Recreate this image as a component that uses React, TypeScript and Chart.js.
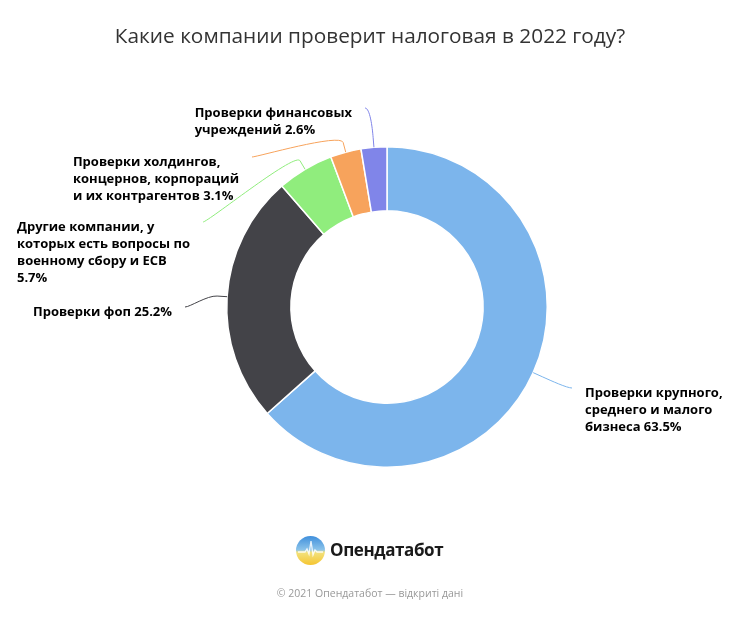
import React, { useEffect, useRef } from 'react';
import { Chart, registerables, Plugin } from 'chart.js';

Chart.register(...registerables);

// clockwise from 12 o'clock
const categories = [
    'Проверки крупного,\nсреднего и малого\nбизнеса',
    'Проверки фоп',
    'Другие компании, у\nкоторых есть вопросы по\nвоенному сбору и ЕСВ\n',
    'Проверки холдингов,\nконцернов, корпораций\nи их контрагентов',
    'Проверки финансовых\nучреждений',
];
const shares = [63.5, 25.2, 5.7, 3.1, 2.6];
const colors = ['#7cb5ec', '#434348', '#90ed7d', '#f7a35c', '#8085e9'];

// where each connector ends, as an offset from the pie centre
const labelAnchors = [
    [185, 81],
    [-202, 0],
    [-184, -85],
    [-135, -150],
    [-22, -199],
];

const labelText = (i: number) => {
    const cat = categories[i];
    return cat.endsWith('\n') ? `${cat}${shares[i]}%` : `${cat} ${shares[i]}%`;
};

const pieLabels: Plugin<'doughnut'> = {
    id: 'pieLabels',
    afterDatasetsDraw(chart) {
        const ctx = chart.ctx;
        const meta = chart.getDatasetMeta(0);
        ctx.save();
        ctx.font = 'bold 13px "Open Sans"';
        ctx.textBaseline = 'middle';
        meta.data.forEach((el, i) => {
            const { x, y, startAngle, endAngle, outerRadius } = el.getProps(
                ['x', 'y', 'startAngle', 'endAngle', 'outerRadius'],
                true
            ) as any;
            const a = (startAngle + endAngle) / 2;
            const ex = x + Math.cos(a) * outerRadius;
            const ey = y + Math.sin(a) * outerRadius;
            const bx = x + Math.cos(a) * (outerRadius + 10);
            const by = y + Math.sin(a) * (outerRadius + 10);
            const lx = x + labelAnchors[i][0];
            const ly = y + labelAnchors[i][1];
            const right = lx > x;

            // soft connector: label -> break point -> slice edge
            ctx.strokeStyle = colors[i];
            ctx.lineWidth = 1;
            ctx.beginPath();
            ctx.moveTo(lx, ly);
            ctx.bezierCurveTo(lx + (right ? -5 : 5), ly, 2 * bx - ex, 2 * by - ey, bx, by);
            ctx.lineTo(ex, ey);
            ctx.stroke();

            const lines = labelText(i).split('\n');
            const w = Math.max(...lines.map((l) => ctx.measureText(l).width));
            const tx = right ? lx + 13 : lx - 13 - w;
            ctx.fillStyle = '#000';
            lines.forEach((l, k) => ctx.fillText(l, tx, ly + 5 + k * 17));
        });
        ctx.restore();
    },
};

const App: React.FC = () => {
    const chartRef = useRef<HTMLCanvasElement | null>(null);

    useEffect(() => {
        const ctx = chartRef.current?.getContext('2d');
        if (!ctx) {
            return;
        }

        const myChart = new Chart(ctx, {
            type: 'doughnut',
            data: {
                labels: categories.map((c) => c.replace(/\n/g, ' ').trim()),
                datasets: [
                    {
                        data: shares,
                        backgroundColor: colors,
                        borderColor: '#ffffff',
                        borderWidth: 1.5,
                        hoverOffset: 0,
                        offset: 0,
                    },
                ],
            },
            options: {
                responsive: true,
                maintainAspectRatio: false,
                animation: false,
                events: [],
                cutout: '60%',
                layout: {
                    padding: { left: 226, right: 192, top: 146, bottom: 149 },
                },
                plugins: {
                    legend: { display: false },
                    tooltip: { enabled: false },
                },
            },
            plugins: [pieLabels],
        });

        return () => {
            myChart.destroy();
        };
    }, []);

    return (
        <div
            style={{
                position: 'absolute',
                left: 0,
                top: 0,
                width: 740,
                height: 617,
                background: '#fff',
                fontFamily: '"Open Sans", sans-serif',
            }}
        >
            <canvas ref={chartRef} style={{ position: 'absolute', left: 0, top: 0 }} />
            <div
                style={{
                    position: 'absolute',
                    top: 21,
                    left: 0,
                    width: 740,
                    textAlign: 'center',
                    fontSize: 20.8,
                    lineHeight: '28px',
                    color: '#333333',
                }}
            >
                Какие компании проверит налоговая в 2022 году?
            </div>
            <svg
                width={29}
                height={29}
                viewBox="0 0 29 29"
                style={{ position: 'absolute', left: 296, top: 536 }}
            >
                <defs>
                    <linearGradient id="logoGrad" x1="0" y1="0" x2="0" y2="1">
                        <stop offset="0%" stopColor="#3f8fdc" />
                        <stop offset="48%" stopColor="#8cc4ea" />
                        <stop offset="56%" stopColor="#f2e27e" />
                        <stop offset="100%" stopColor="#f5c531" />
                    </linearGradient>
                </defs>
                <circle cx={14.5} cy={14.5} r={14.5} fill="url(#logoGrad)" />
                <polyline
                    points="2,16 9,16 11,13 13,18 15,5 17,19 19,14 21,16 27,16"
                    fill="none"
                    stroke="#ffffff"
                    strokeWidth={1.3}
                    strokeOpacity={0.85}
                />
            </svg>
            <div
                style={{
                    position: 'absolute',
                    left: 330,
                    top: 538,
                    fontSize: 17,
                    lineHeight: '24px',
                    fontWeight: 700,
                    letterSpacing: -0.4,
                    color: '#1a1a1a',
                }}
            >
                Опендатабот
            </div>
            <div
                style={{
                    position: 'absolute',
                    top: 585,
                    left: 0,
                    width: 740,
                    textAlign: 'center',
                    fontSize: 10.5,
                    lineHeight: '16px',
                    color: '#999999',
                }}
            >
                © 2021 Опендатабот — відкриті дані
            </div>
        </div>
    );
};

export default App;
